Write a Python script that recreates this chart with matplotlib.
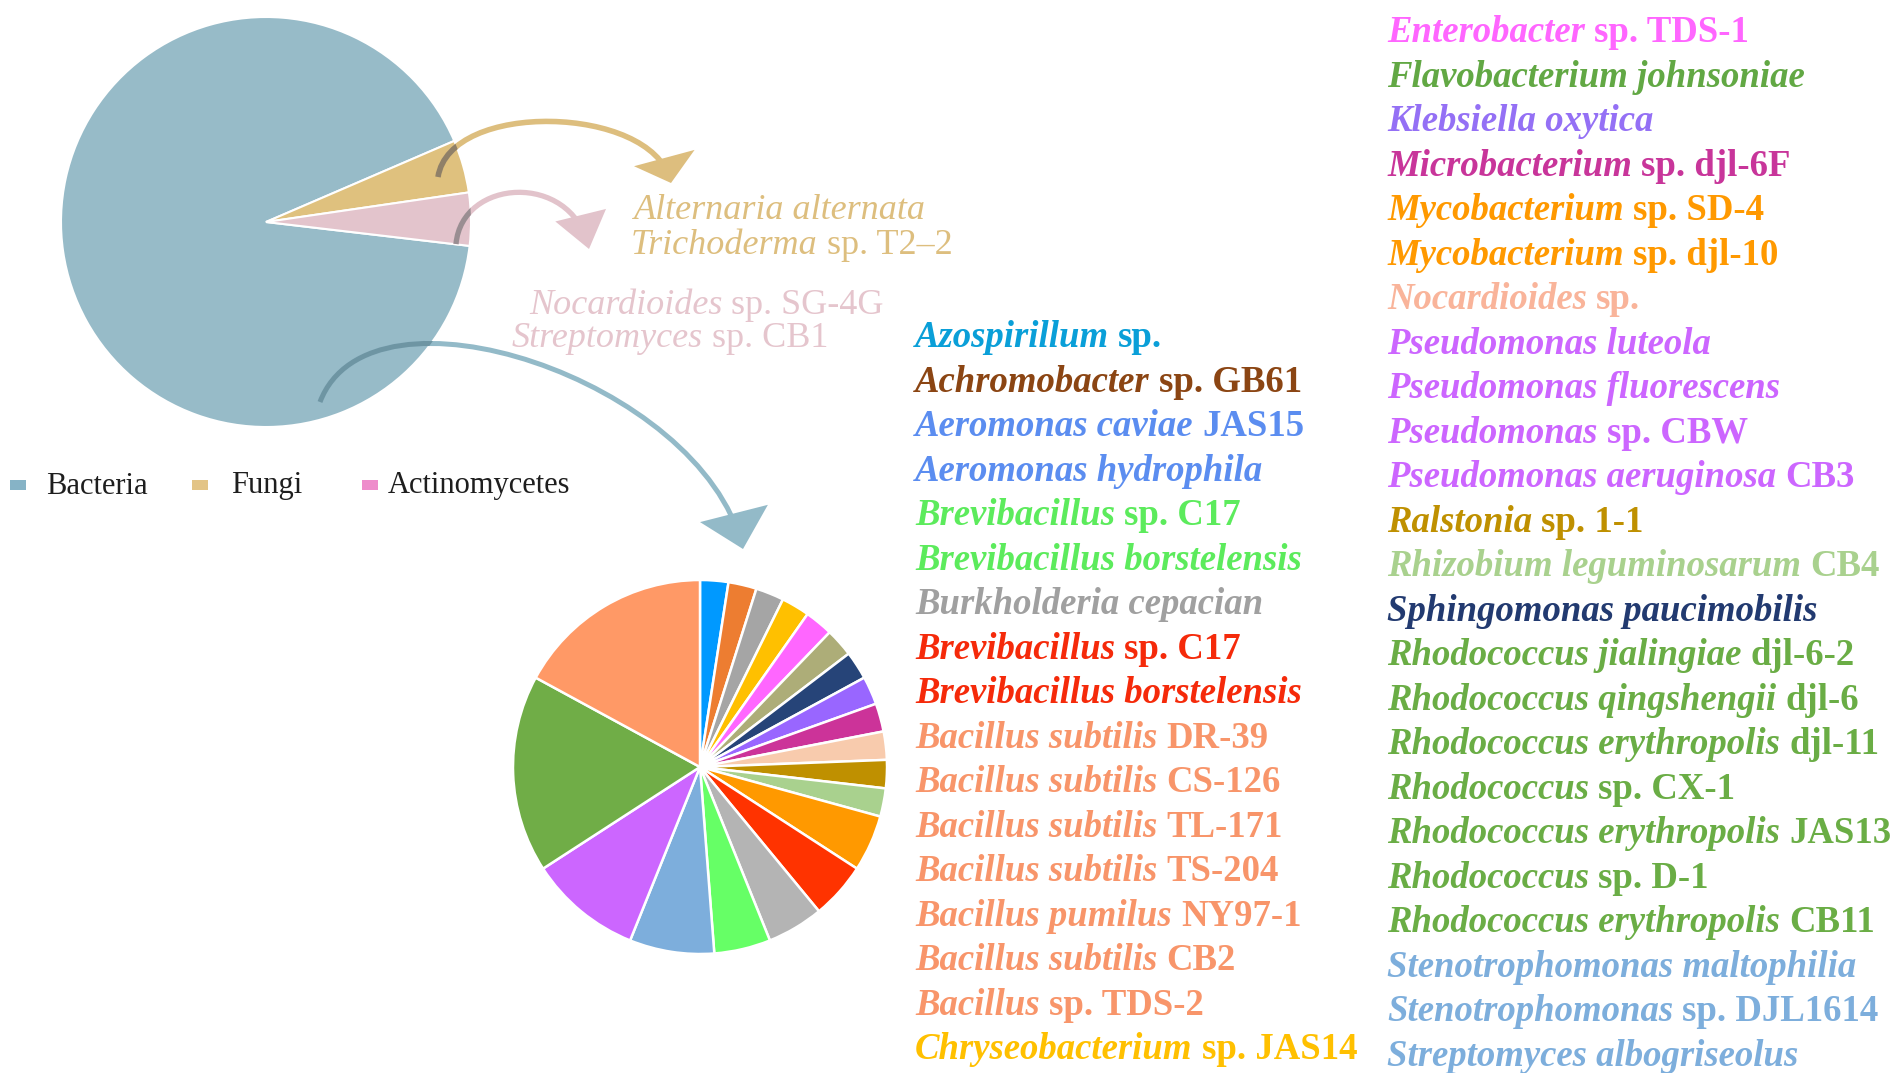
import matplotlib.pyplot as plt
import numpy as np
from matplotlib.patches import FancyArrowPatch, Circle, Rectangle, ArrowStyle
from matplotlib.path import Path

W, H = 1902, 1073

# top pie: microbe kingdoms
kingdom_labels = ['Bacteria', 'Fungi', 'Actinomycetes']
kingdom_counts = [44, 2, 2]
kingdom_colors = ['#97BBC8', '#DFC17E', '#E3C4CC']
legend_colors = ['#86B3C6', '#E3C486', '#EE8CCB']

# lower pie: bacterial genera (clockwise from 12 o'clock)
genus_groups = ['Azospirillum', 'Achromobacter', 'Burkholderia', 'Chryseobacterium',
                'Enterobacter', 'Flavobacterium', 'Sphingomonas', 'Klebsiella',
                'Microbacterium', 'Nocardioides', 'Ralstonia', 'Rhizobium',
                'Mycobacterium', 'Brevibacillus (red)', 'Aeromonas', 'Brevibacillus (green)',
                'Stenotrophomonas/Streptomyces', 'Pseudomonas', 'Rhodococcus', 'Bacillus']
genus_counts = [1, 1, 1, 1, 1, 1, 1, 1, 1, 1, 1, 1, 2, 2, 2, 2, 3, 4, 7, 7]
genus_colors = ['#0099FF', '#ED7D31', '#A5A5A5', '#FFC000', '#FF66FF', '#ADAD78',
                '#264478', '#9966FF', '#CC3399', '#F8CBAD', '#BF9000', '#A9D18E',
                '#FF9900', '#FF3300', '#B4B4B4', '#66FF66', '#7DAEDC', '#CC66FF',
                '#70AD47', '#FF9966']

fungi_italic = ['Alternaria alternata', 'Trichoderma']
fungi_roman = ['', 'sp. T2–2']
actino_italic = ['Nocardioides', 'Streptomyces']
actino_roman = ['sp. SG-4G', 'sp. CB1']

left_italic = ['Azospirillum', 'Achromobacter', 'Aeromonas caviae', 'Aeromonas hydrophila',
               'Brevibacillus', 'Brevibacillus borstelensis', 'Burkholderia cepacian',
               'Brevibacillus', 'Brevibacillus borstelensis', 'Bacillus subtilis',
               'Bacillus subtilis', 'Bacillus subtilis', 'Bacillus subtilis',
               'Bacillus pumilus', 'Bacillus subtilis', 'Bacillus', 'Chryseobacterium']
left_roman = ['sp.', 'sp. GB61', 'JAS15', '', 'sp. C17', '', '', 'sp. C17', '',
              'DR-39', 'CS-126', 'TL-171', 'TS-204', 'NY97-1', 'CB2', 'sp. TDS-2',
              'sp. JAS14']
left_colors = ['#0A9FD8', '#8B4513', '#5B8DF0', '#5B8DF0', '#5CEB5C', '#5CEB5C',
               '#A0A0A0', '#F52A0A', '#F52A0A', '#F8956A', '#F8956A', '#F8956A',
               '#F8956A', '#F8956A', '#F8956A', '#F8956A', '#FFC000']

right_italic = ['Enterobacter', 'Flavobacterium johnsoniae', 'Klebsiella oxytica',
                'Microbacterium', 'Mycobacterium', 'Mycobacterium', 'Nocardioides',
                'Pseudomonas luteola', 'Pseudomonas fluorescens', 'Pseudomonas',
                'Pseudomonas aeruginosa', 'Ralstonia', 'Rhizobium leguminosarum',
                'Sphingomonas paucimobilis', 'Rhodococcus jialingiae',
                'Rhodococcus qingshengii', 'Rhodococcus erythropolis', 'Rhodococcus',
                'Rhodococcus erythropolis', 'Rhodococcus', 'Rhodococcus erythropolis',
                'Stenotrophomonas maltophilia', 'Stenotrophomonas',
                'Streptomyces albogriseolus']
right_roman = ['sp. TDS-1', '', '', 'sp. djl-6F', 'sp. SD-4', 'sp. djl-10', 'sp.', '',
               '', 'sp. CBW', 'CB3', 'sp. 1-1', 'CB4', '', 'djl-6-2', 'djl-6',
               'djl-11', 'sp. CX-1', 'JAS13', 'sp. D-1', 'CB11', '', 'sp. DJL1614', '']
right_colors = ['#FF66FF', '#62A844', '#9470F5', '#C8359A', '#FF9900', '#FF9900',
                '#F9B49A', '#CC66FF', '#CC66FF', '#CC66FF', '#CC66FF', '#BF9000',
                '#A9D18E', '#223A70', '#6AAD45', '#6AAD45', '#6AAD45', '#6AAD45',
                '#6AAD45', '#6AAD45', '#6AAD45', '#7DAEDC', '#7DAEDC', '#7DAEDC']

fig = plt.figure(figsize=(W / 100, H / 100), dpi=100)


def pie_axes(cx, cy, r):
    ax = fig.add_axes([(cx - r) / W, 1 - (cy + r) / H, 2 * r / W, 2 * r / H])
    ax.set_aspect('equal')
    ax.axis('off')
    return ax


# big pie
big_c, big_r = (266, 222), 205
ax1 = pie_axes(*big_c, big_r)
ax1.pie(kingdom_counts, colors=kingdom_colors, startangle=353.3, counterclock=False,
        radius=1, wedgeprops=dict(edgecolor='white', linewidth=1.5))
ax1.set_xlim(-1.0, 1.0)
ax1.set_ylim(-1.0, 1.0)

# small pie
ax2 = pie_axes(700, 767, 187)
ax2.pie(genus_counts, colors=genus_colors, startangle=90, counterclock=False,
        radius=1, wedgeprops=dict(edgecolor='white', linewidth=1.8))
ax2.set_xlim(-1.0, 1.0)
ax2.set_ylim(-1.0, 1.0)

# overlay for text and arrows, in pixel coords
cv = fig.add_axes([0, 0, 1, 1], zorder=5)
cv.set_xlim(0, W)
cv.set_ylim(H, 0)
cv.axis('off')

renderer = fig.canvas.get_renderer()
serif = 'Liberation Serif'


def rich(x, y, ital, roman, color, size, weight='bold'):
    px = size * 100 / 72
    yb = y + 0.33 * px
    for s, style in [(ital, 'italic'), (roman, 'normal')]:
        if not s:
            continue
        t = cv.text(x, yb, s, color=color, fontsize=size, fontstyle=style,
                    fontweight=weight, family=serif, va='baseline', ha='left')
        bb = t.get_window_extent(renderer)
        x = cv.transData.inverted().transform((bb.x1, bb.y0))[0] + 0.25 * px


LBL = 26.5
for i, (a, b, c) in enumerate(zip(left_italic, left_roman, left_colors)):
    rich(915, 335 + i * 44.5, a, b, c, LBL)
for i, (a, b, c) in enumerate(zip(right_italic, right_roman, right_colors)):
    rich(1387, 30 + i * 44.5, a, b, c, LBL)

SUB = 26
rich(634, 207, fungi_italic[0], fungi_roman[0], '#DDBE7E', SUB, 'normal')
rich(631, 242, fungi_italic[1], fungi_roman[1], '#DDBE7E', SUB, 'normal')
rich(529, 302, actino_italic[0], actino_roman[0], '#E5C5CD', SUB, 'normal')
rich(512, 335, actino_italic[1], actino_roman[1], '#E5C5CD', SUB, 'normal')

# legend
marker_x = [10, 192, 362]
label_x = [46, 231, 388]
for mx, tx, lab, col in zip(marker_x, label_x, kingdom_labels, legend_colors):
    cv.add_patch(Rectangle((mx, 480), 16, 10, color=col, lw=0))
    cv.text(tx, 486, lab, fontsize=22, family=serif, color='#1E1E1E',
            va='center', ha='left')

# curved arrows
big_circle = Circle(big_c, big_r, transform=cv.transData)


def curved_arrow(pts, color, dark, lw, hw, hl):
    path = Path(pts, [Path.MOVETO, Path.CURVE4, Path.CURVE4, Path.CURVE4])
    style = ArrowStyle('-|>', head_width=hw, head_length=hl)
    for col, clip in [(color, False), (dark, True)]:
        arr = FancyArrowPatch(path=path, arrowstyle=style, color=col, lw=lw,
                              mutation_scale=1, shrinkA=0, shrinkB=0,
                              joinstyle='miter', capstyle='butt')
        cv.add_patch(arr)
        if clip:
            arr.set_clip_path(big_circle)


curved_arrow([(438, 177), (450, 100), (650, 105), (671, 183)],
             '#DDBE7E', '#8F8068', 4.0, 17, 14)
curved_arrow([(456, 244), (462, 178), (570, 172), (589, 249)],
             '#E2C3CB', '#9A8E92', 3.8, 15, 20)
curved_arrow([(320, 402), (370, 270), (700, 380), (743, 549)],
             '#93BAC8', '#6E95A3', 3.6, 21, 22)

fig.savefig('out.png', dpi=100)
